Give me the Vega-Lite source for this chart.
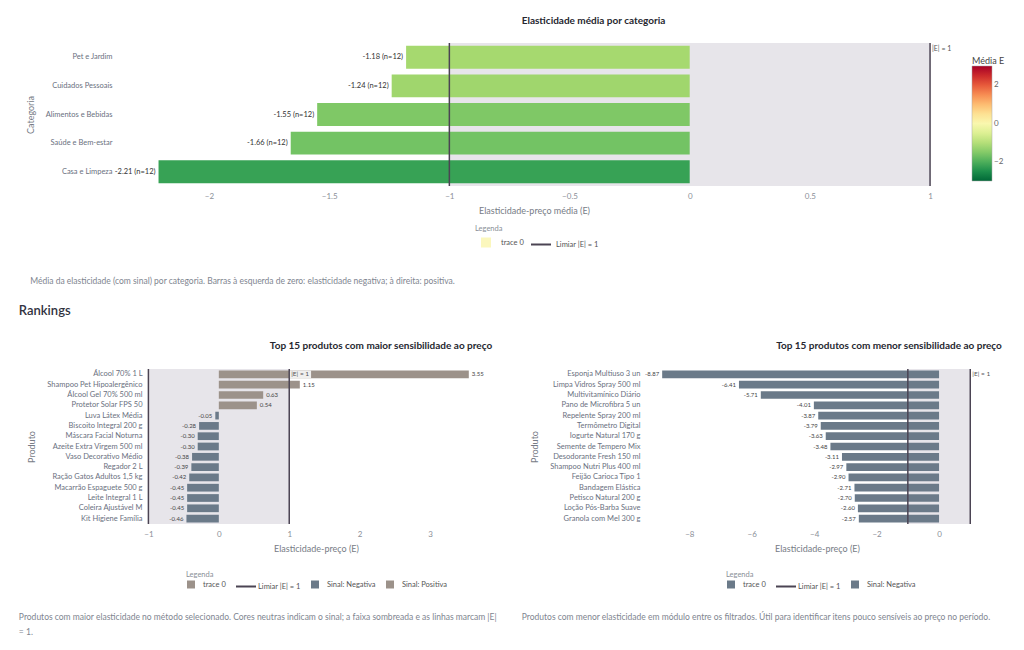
{
  "$schema": "https://vega.github.io/schema/vega-lite/v6.json",
  "background": "white",
  "padding": {"left": 18, "top": 16, "right": 5, "bottom": 5},
  "config": {
    "font": "Lato",
    "view": {"stroke": null},
    "axis": {"grid": false, "domain": false, "ticks": false, "labelColor": "#8b8f98", "labelFontSize": 8, "titleColor": "#777c86", "titleFontSize": 9, "titleFontWeight": "normal"},
    "legend": {"titleFontWeight": "normal"}
  },
  "spacing": 19,
  "align": "none",
  "resolve": {"scale": {"color": "independent"}, "legend": {"color": "independent"}},
  "vconcat": [
    {
      "title": {"text": "Média da elasticidade (com sinal) por categoria. Barras à esquerda de zero: elasticidade negativa; à direita: positiva.", "orient": "bottom", "anchor": "start", "frame": "bounds", "fontSize": 8.5, "fontWeight": "normal", "color": "#808590", "offset": 26, "dx": 4},
      "resolve": {"scale": {"color": "independent"}, "legend": {"color": "independent"}},
      "vconcat": [
        {
          "width": 803,
          "height": 143,
          "title": {"text": "Elasticidade média por categoria", "anchor": "middle", "dx": 45, "fontSize": 10, "fontWeight": "bold", "color": "#262730", "offset": 16},
          "resolve": {"scale": {"color": "independent"}, "legend": {"color": "independent"}},
          "layer": [
            {
              "data": {"values": [{"de": -1, "ate": 1}]},
              "mark": {"type": "rect", "color": "#e7e5ea"},
              "encoding": {"x": {"field": "de", "type": "quantitative"}, "x2": {"field": "ate"}}
            },
            {
              "data": {"name": "categorias"},
              "mark": {"type": "bar"},
              "encoding": {
                "y": {"field": "categoria", "type": "nominal", "sort": ["Pet e Jardim", "Cuidados Pessoais", "Alimentos e Bebidas", "Saúde e Bem-estar", "Casa e Limpeza"], "scale": {"paddingInner": 0.2, "paddingOuter": 0.1}, "axis": {"title": "Categoria", "labelColor": "#6a7080", "labelFontSize": 7.5, "labelPadding": 35, "titlePadding": 10}},
                "x": {"field": "media", "type": "quantitative", "scale": {"domain": [-2.258, 1.083], "nice": false, "zero": false}, "axis": {"title": "Elasticidade-preço média (E)", "titleX": 387, "values": [-2, -1.5, -1, -0.5, 0, 0.5, 1], "format": "~g", "labelPadding": 6, "titlePadding": 6}},
                "color": {"field": "media", "type": "quantitative", "scale": {"scheme": "redyellowgreen", "reverse": true, "domain": [-3, 3]}, "legend": {"title": "Média E", "orient": "none", "legendX": 825, "legendY": 14, "titlePadding": 0, "gradientLength": 115, "gradientThickness": 20, "values": [-2, 0, 2], "titleFontSize": 9, "titleColor": "#444", "labelFontSize": 8, "labelColor": "#666", "gradientStrokeColor": "#aaa", "gradientStrokeWidth": 0.5}}
              }
            },
            {
              "data": {"values": [{"lim": -1}, {"lim": 1}]},
              "mark": {"type": "rule", "strokeWidth": 1.5},
              "encoding": {
                "x": {"field": "lim", "type": "quantitative"},
                "color": {"datum": "Limiar |E| = 1", "type": "nominal", "scale": {"domain": ["trace 0", "Limiar |E| = 1"], "range": ["#fbf7bd", "#4b4453"]}, "legend": {"title": "Legenda", "orient": "none", "legendX": 328, "legendY": 182, "direction": "horizontal", "titleFontSize": 7.5, "titleColor": "#8a8f98", "titlePadding": -1, "labelFontSize": 7.5, "labelColor": "#555", "symbolSize": 400, "labelOffset": 4, "columnPadding": 3, "encode": {"symbols": {"update": {
                  "shape": {"signal": "datum.value === 'trace 0' ? 'square' : 'stroke'"},
                  "size": {"signal": "datum.value === 'trace 0' ? 64 : 400"},
                  "fill": {"signal": "datum.value === 'trace 0' ? '#fbf7bd' : 'transparent'"},
                  "stroke": {"signal": "datum.value === 'trace 0' ? 'transparent' : '#4b4453'"},
                  "strokeWidth": {"value": 2},
                  "opacity": {"value": 1}
                }}}}}
              }
            },
            {
              "data": {"name": "categorias"},
              "mark": {"type": "text", "align": "right", "dx": -3, "fontSize": 7.5, "color": "#333"},
              "encoding": {
                "x": {"field": "media", "type": "quantitative"},
                "y": {"field": "categoria", "type": "nominal", "sort": ["Pet e Jardim", "Cuidados Pessoais", "Alimentos e Bebidas", "Saúde e Bem-estar", "Casa e Limpeza"]},
                "text": {"field": "rotulo"}
              }
            },
            {
              "data": {"values": [{"categoria": "Pet e Jardim", "lim": 1, "t": "|E| = 1"}]},
              "mark": {"type": "text", "align": "left", "dx": 2, "dy": -8, "fontSize": 7, "color": "#555"},
              "encoding": {
                "x": {"field": "lim", "type": "quantitative"},
                "y": {"field": "categoria", "type": "nominal", "sort": ["Pet e Jardim", "Cuidados Pessoais", "Alimentos e Bebidas", "Saúde e Bem-estar", "Casa e Limpeza"]},
                "text": {"field": "t"}
              }
            }
          ]
        }
      ]
    },
    {
      "title": {"text": "Rankings", "anchor": "start", "frame": "bounds", "fontSize": 13, "fontWeight": 600, "color": "#31333f", "offset": 23},
      "spacing": 24,
      "resolve": {"scale": {"color": "independent"}, "legend": {"color": "independent"}},
      "hconcat": [
        {
          "title": {"text": ["Produtos com maior elasticidade no método selecionado. Cores neutras indicam o sinal; a faixa sombreada e as linhas marcam |E|", "= 1."], "orient": "bottom", "anchor": "start", "frame": "bounds", "fontSize": 8.5, "fontWeight": "normal", "color": "#808590", "offset": 20, "dx": -9, "lineHeight": 15},
          "vconcat": [
            {
              "width": 338,
              "height": 155,
              "title": {"text": "Top 15 produtos com maior sensibilidade ao preço", "anchor": "middle", "dx": 65, "fontSize": 10, "fontWeight": "bold", "color": "#262730", "offset": 17},
              "layer": [
                {
                  "data": {"values": [{"de": -1, "ate": 1}]},
                  "mark": {"type": "rect", "color": "#e7e5ea"},
                  "encoding": {"x": {"field": "de", "type": "quantitative"}, "x2": {"field": "ate"}}
                },
                {
                  "data": {"name": "maior"},
                  "mark": {"type": "bar"},
                  "encoding": {
                    "y": {"field": "produto", "type": "nominal", "sort": ["Álcool 70% 1 L", "Shampoo Pet Hipoalergênico", "Álcool Gel 70% 500 ml", "Protetor Solar FPS 50", "Luva Látex Média", "Biscoito Integral 200 g", "Máscara Facial Noturna", "Azeite Extra Virgem 500 ml", "Vaso Decorativo Médio", "Regador 2 L", "Ração Gatos Adultos 1,5 kg", "Macarrão Espaguete 500 g", "Leite Integral 1 L", "Coleira Ajustável M", "Kit Higiene Família"], "scale": {"paddingInner": 0.25, "paddingOuter": 0.15}, "axis": {"title": "Produto", "labelColor": "#6a7080", "labelFontSize": 7.5, "labelPadding": 5, "titlePadding": 10}},
                    "x": {"field": "e", "type": "quantitative", "scale": {"domain": [-1.02, 3.78], "nice": false, "zero": false}, "axis": {"title": "Elasticidade-preço (E)", "values": [-1, 0, 1, 2, 3], "format": "~g", "labelPadding": 6, "titlePadding": 6}},
                    "color": {"field": "sinal", "type": "nominal", "scale": {"domain": ["trace 0", "Limiar |E| = 1", "Sinal: Negativa", "Sinal: Positiva"], "range": ["#9c928a", "#4b4453", "#6b7a89", "#9c928a"]}, "legend": {"title": "Legenda", "orient": "none", "legendX": 39, "legendY": 202, "direction": "horizontal", "titleFontSize": 7.5, "titleColor": "#8a8f98", "titlePadding": 1, "labelFontSize": 7.5, "labelColor": "#555", "symbolSize": 400, "labelOffset": 7, "columnPadding": 6, "encode": {"symbols": {"update": {
                      "shape": {"signal": "datum.value === 'Limiar |E| = 1' ? 'stroke' : 'square'"},
                      "size": {"signal": "datum.value === 'Limiar |E| = 1' ? 400 : 64"},
                      "fill": {"signal": "datum.value === 'Limiar |E| = 1' ? 'transparent' : (datum.value === 'Sinal: Negativa' ? '#6b7a89' : '#9c928a')"},
                      "stroke": {"signal": "datum.value === 'Limiar |E| = 1' ? '#4b4453' : 'transparent'"},
                      "strokeWidth": {"value": 2},
                      "opacity": {"value": 1}
                    }}}}}
                  }
                },
                {
                  "data": {"values": [{"lim": -1}, {"lim": 1}]},
                  "mark": {"type": "rule", "strokeWidth": 1.5, "color": "#4b4453"},
                  "encoding": {"x": {"field": "lim", "type": "quantitative"}}
                },
                {
                  "data": {"name": "maior"},
                  "transform": [{"filter": "datum.e >= 0"}],
                  "mark": {"type": "text", "align": "left", "dx": 3, "fontSize": 6, "color": "#444"},
                  "encoding": {
                    "x": {"field": "e", "type": "quantitative"},
                    "y": {"field": "produto", "type": "nominal", "sort": ["Álcool 70% 1 L", "Shampoo Pet Hipoalergênico", "Álcool Gel 70% 500 ml", "Protetor Solar FPS 50", "Luva Látex Média", "Biscoito Integral 200 g", "Máscara Facial Noturna", "Azeite Extra Virgem 500 ml", "Vaso Decorativo Médio", "Regador 2 L", "Ração Gatos Adultos 1,5 kg", "Macarrão Espaguete 500 g", "Leite Integral 1 L", "Coleira Ajustável M", "Kit Higiene Família"]},
                    "text": {"field": "rotulo"}
                  }
                },
                {
                  "data": {"name": "maior"},
                  "transform": [{"filter": "datum.e < 0"}],
                  "mark": {"type": "text", "align": "right", "dx": -3, "fontSize": 6, "color": "#444"},
                  "encoding": {
                    "x": {"field": "e", "type": "quantitative"},
                    "y": {"field": "produto", "type": "nominal", "sort": ["Álcool 70% 1 L", "Shampoo Pet Hipoalergênico", "Álcool Gel 70% 500 ml", "Protetor Solar FPS 50", "Luva Látex Média", "Biscoito Integral 200 g", "Máscara Facial Noturna", "Azeite Extra Virgem 500 ml", "Vaso Decorativo Médio", "Regador 2 L", "Ração Gatos Adultos 1,5 kg", "Macarrão Espaguete 500 g", "Leite Integral 1 L", "Coleira Ajustável M", "Kit Higiene Família"]},
                    "text": {"field": "rotulo"}
                  }
                },
                {
                  "data": {"values": [{"produto": "Álcool 70% 1 L", "de": 1.01, "ate": 1.31}]},
                  "mark": {"type": "bar", "color": "white", "opacity": 0.85},
                  "encoding": {
                    "x": {"field": "de", "type": "quantitative"},
                    "x2": {"field": "ate"},
                    "y": {"field": "produto", "type": "nominal", "sort": ["Álcool 70% 1 L", "Shampoo Pet Hipoalergênico", "Álcool Gel 70% 500 ml", "Protetor Solar FPS 50", "Luva Látex Média", "Biscoito Integral 200 g", "Máscara Facial Noturna", "Azeite Extra Virgem 500 ml", "Vaso Decorativo Médio", "Regador 2 L", "Ração Gatos Adultos 1,5 kg", "Macarrão Espaguete 500 g", "Leite Integral 1 L", "Coleira Ajustável M", "Kit Higiene Família"]}
                  }
                },
                {
                  "data": {"values": [{"produto": "Álcool 70% 1 L", "lim": 1, "t": "|E| = 1"}]},
                  "mark": {"type": "text", "align": "left", "dx": 2, "fontSize": 6.5, "color": "#555"},
                  "encoding": {
                    "x": {"field": "lim", "type": "quantitative"},
                    "y": {"field": "produto", "type": "nominal", "sort": ["Álcool 70% 1 L", "Shampoo Pet Hipoalergênico", "Álcool Gel 70% 500 ml", "Protetor Solar FPS 50", "Luva Látex Média", "Biscoito Integral 200 g", "Máscara Facial Noturna", "Azeite Extra Virgem 500 ml", "Vaso Decorativo Médio", "Regador 2 L", "Ração Gatos Adultos 1,5 kg", "Macarrão Espaguete 500 g", "Leite Integral 1 L", "Coleira Ajustável M", "Kit Higiene Família"]},
                    "text": {"field": "t"}
                  }
                }
              ]
            }
          ]
        },
        {
          "title": {"text": "Produtos com menor elasticidade em módulo entre os filtrados. Útil para identificar itens pouco sensíveis ao preço no período.", "orient": "bottom", "anchor": "start", "frame": "bounds", "fontSize": 8.5, "fontWeight": "normal", "color": "#808590", "offset": 20, "dx": -9},
          "vconcat": [
            {
              "width": 344,
              "height": 155,
              "title": {"text": "Top 15 produtos com menor sensibilidade ao preço", "anchor": "middle", "dx": 72, "fontSize": 10, "fontWeight": "bold", "color": "#262730", "offset": 17},
              "layer": [
                {
                  "data": {"values": [{"de": -1, "ate": 1}]},
                  "mark": {"type": "rect", "color": "#e7e5ea"},
                  "encoding": {"x": {"field": "de", "type": "quantitative"}, "x2": {"field": "ate"}}
                },
                {
                  "data": {"name": "menor"},
                  "mark": {"type": "bar"},
                  "encoding": {
                    "y": {"field": "produto", "type": "nominal", "sort": ["Esponja Multiuso 3 un", "Limpa Vidros Spray 500 ml", "Multivitamínico Diário", "Pano de Microfibra 5 un", "Repelente Spray 200 ml", "Termômetro Digital", "Iogurte Natural 170 g", "Semente de Tempero Mix", "Desodorante Fresh 150 ml", "Shampoo Nutri Plus 400 ml", "Feijão Carioca Tipo 1", "Bandagem Elástica", "Petisco Natural 200 g", "Loção Pós-Barba Suave", "Granola com Mel 300 g"], "scale": {"paddingInner": 0.25, "paddingOuter": 0.15}, "axis": {"title": "Produto", "labelColor": "#6a7080", "labelFontSize": 7.5, "labelPadding": 5, "titlePadding": 10}},
                    "x": {"field": "e", "type": "quantitative", "scale": {"domain": [-9.42, 1.6], "nice": false, "zero": false}, "axis": {"title": "Elasticidade-preço (E)", "values": [-8, -6, -4, -2, 0], "format": "~g", "labelPadding": 6, "titlePadding": 6}},
                    "color": {"field": "sinal", "type": "nominal", "scale": {"domain": ["trace 0", "Limiar |E| = 1", "Sinal: Negativa"], "range": ["#6b7a89", "#4b4453", "#6b7a89"]}, "legend": {"title": "Legenda", "orient": "none", "legendX": 81, "legendY": 202, "direction": "horizontal", "titleFontSize": 7.5, "titleColor": "#8a8f98", "titlePadding": 1, "labelFontSize": 7.5, "labelColor": "#555", "symbolSize": 400, "labelOffset": 7, "columnPadding": 6, "encode": {"symbols": {"update": {
                      "shape": {"signal": "datum.value === 'Limiar |E| = 1' ? 'stroke' : 'square'"},
                      "size": {"signal": "datum.value === 'Limiar |E| = 1' ? 400 : 64"},
                      "fill": {"signal": "datum.value === 'Limiar |E| = 1' ? 'transparent' : '#6b7a89'"},
                      "stroke": {"signal": "datum.value === 'Limiar |E| = 1' ? '#4b4453' : 'transparent'"},
                      "strokeWidth": {"value": 2},
                      "opacity": {"value": 1}
                    }}}}}
                  }
                },
                {
                  "data": {"values": [{"lim": -1}, {"lim": 1}]},
                  "mark": {"type": "rule", "strokeWidth": 1.5, "color": "#4b4453"},
                  "encoding": {"x": {"field": "lim", "type": "quantitative"}}
                },
                {
                  "data": {"name": "menor"},
                  "mark": {"type": "text", "align": "right", "dx": -3, "fontSize": 6, "color": "#444"},
                  "encoding": {
                    "x": {"field": "e", "type": "quantitative"},
                    "y": {"field": "produto", "type": "nominal", "sort": ["Esponja Multiuso 3 un", "Limpa Vidros Spray 500 ml", "Multivitamínico Diário", "Pano de Microfibra 5 un", "Repelente Spray 200 ml", "Termômetro Digital", "Iogurte Natural 170 g", "Semente de Tempero Mix", "Desodorante Fresh 150 ml", "Shampoo Nutri Plus 400 ml", "Feijão Carioca Tipo 1", "Bandagem Elástica", "Petisco Natural 200 g", "Loção Pós-Barba Suave", "Granola com Mel 300 g"]},
                    "text": {"field": "rotulo"}
                  }
                },
                {
                  "data": {"values": [{"produto": "Esponja Multiuso 3 un", "lim": 1, "t": "|E| = 1"}]},
                  "mark": {"type": "text", "align": "left", "dx": 2, "fontSize": 6.5, "color": "#555"},
                  "encoding": {
                    "x": {"field": "lim", "type": "quantitative"},
                    "y": {"field": "produto", "type": "nominal", "sort": ["Esponja Multiuso 3 un", "Limpa Vidros Spray 500 ml", "Multivitamínico Diário", "Pano de Microfibra 5 un", "Repelente Spray 200 ml", "Termômetro Digital", "Iogurte Natural 170 g", "Semente de Tempero Mix", "Desodorante Fresh 150 ml", "Shampoo Nutri Plus 400 ml", "Feijão Carioca Tipo 1", "Bandagem Elástica", "Petisco Natural 200 g", "Loção Pós-Barba Suave", "Granola com Mel 300 g"]},
                    "text": {"field": "t"}
                  }
                }
              ]
            }
          ]
        }
      ]
    }
  ],
  "datasets": {
    "categorias": [
      {"categoria": "Pet e Jardim", "media": -1.18, "rotulo": "-1.18 (n=12)"},
      {"categoria": "Cuidados Pessoais", "media": -1.24, "rotulo": "-1.24 (n=12)"},
      {"categoria": "Alimentos e Bebidas", "media": -1.55, "rotulo": "-1.55 (n=12)"},
      {"categoria": "Saúde e Bem-estar", "media": -1.66, "rotulo": "-1.66 (n=12)"},
      {"categoria": "Casa e Limpeza", "media": -2.21, "rotulo": "-2.21 (n=12)"}
    ],
    "maior": [
      {"produto": "Álcool 70% 1 L", "e": 3.55, "sinal": "Sinal: Positiva", "rotulo": "3.55"},
      {"produto": "Shampoo Pet Hipoalergênico", "e": 1.15, "sinal": "Sinal: Positiva", "rotulo": "1.15"},
      {"produto": "Álcool Gel 70% 500 ml", "e": 0.63, "sinal": "Sinal: Positiva", "rotulo": "0.63"},
      {"produto": "Protetor Solar FPS 50", "e": 0.54, "sinal": "Sinal: Positiva", "rotulo": "0.54"},
      {"produto": "Luva Látex Média", "e": -0.05, "sinal": "Sinal: Negativa", "rotulo": "-0.05"},
      {"produto": "Biscoito Integral 200 g", "e": -0.28, "sinal": "Sinal: Negativa", "rotulo": "-0.28"},
      {"produto": "Máscara Facial Noturna", "e": -0.30, "sinal": "Sinal: Negativa", "rotulo": "-0.30"},
      {"produto": "Azeite Extra Virgem 500 ml", "e": -0.30, "sinal": "Sinal: Negativa", "rotulo": "-0.30"},
      {"produto": "Vaso Decorativo Médio", "e": -0.38, "sinal": "Sinal: Negativa", "rotulo": "-0.38"},
      {"produto": "Regador 2 L", "e": -0.39, "sinal": "Sinal: Negativa", "rotulo": "-0.39"},
      {"produto": "Ração Gatos Adultos 1,5 kg", "e": -0.42, "sinal": "Sinal: Negativa", "rotulo": "-0.42"},
      {"produto": "Macarrão Espaguete 500 g", "e": -0.45, "sinal": "Sinal: Negativa", "rotulo": "-0.45"},
      {"produto": "Leite Integral 1 L", "e": -0.45, "sinal": "Sinal: Negativa", "rotulo": "-0.45"},
      {"produto": "Coleira Ajustável M", "e": -0.45, "sinal": "Sinal: Negativa", "rotulo": "-0.45"},
      {"produto": "Kit Higiene Família", "e": -0.46, "sinal": "Sinal: Negativa", "rotulo": "-0.46"}
    ],
    "menor": [
      {"produto": "Esponja Multiuso 3 un", "e": -8.87, "sinal": "Sinal: Negativa", "rotulo": "-8.87"},
      {"produto": "Limpa Vidros Spray 500 ml", "e": -6.41, "sinal": "Sinal: Negativa", "rotulo": "-6.41"},
      {"produto": "Multivitamínico Diário", "e": -5.71, "sinal": "Sinal: Negativa", "rotulo": "-5.71"},
      {"produto": "Pano de Microfibra 5 un", "e": -4.01, "sinal": "Sinal: Negativa", "rotulo": "-4.01"},
      {"produto": "Repelente Spray 200 ml", "e": -3.87, "sinal": "Sinal: Negativa", "rotulo": "-3.87"},
      {"produto": "Termômetro Digital", "e": -3.79, "sinal": "Sinal: Negativa", "rotulo": "-3.79"},
      {"produto": "Iogurte Natural 170 g", "e": -3.63, "sinal": "Sinal: Negativa", "rotulo": "-3.63"},
      {"produto": "Semente de Tempero Mix", "e": -3.48, "sinal": "Sinal: Negativa", "rotulo": "-3.48"},
      {"produto": "Desodorante Fresh 150 ml", "e": -3.11, "sinal": "Sinal: Negativa", "rotulo": "-3.11"},
      {"produto": "Shampoo Nutri Plus 400 ml", "e": -2.97, "sinal": "Sinal: Negativa", "rotulo": "-2.97"},
      {"produto": "Feijão Carioca Tipo 1", "e": -2.90, "sinal": "Sinal: Negativa", "rotulo": "-2.90"},
      {"produto": "Bandagem Elástica", "e": -2.71, "sinal": "Sinal: Negativa", "rotulo": "-2.71"},
      {"produto": "Petisco Natural 200 g", "e": -2.70, "sinal": "Sinal: Negativa", "rotulo": "-2.70"},
      {"produto": "Loção Pós-Barba Suave", "e": -2.60, "sinal": "Sinal: Negativa", "rotulo": "-2.60"},
      {"produto": "Granola com Mel 300 g", "e": -2.57, "sinal": "Sinal: Negativa", "rotulo": "-2.57"}
    ]
  }
}
